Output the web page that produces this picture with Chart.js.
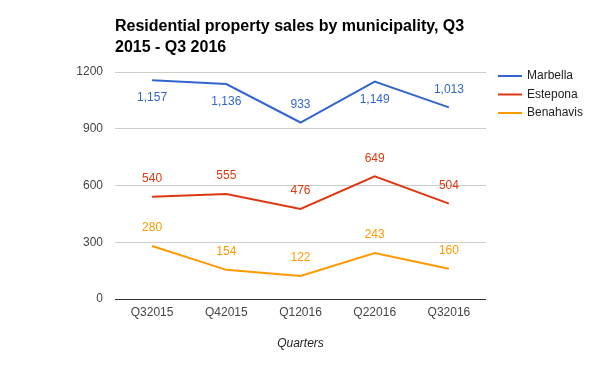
<!DOCTYPE html>
<html>
<head>
<meta charset="utf-8">
<script src="https://cdn.jsdelivr.net/npm/chart.js@4"></script>
<style>
  html, body { margin: 0; padding: 0; background: #fff; }
  #wrap { width: 600px; height: 371px; position: relative; }
</style>
</head>
<body>
<div id="wrap"><canvas id="chart"></canvas></div>
<script>
const quarters  = ['Q32015', 'Q42015', 'Q12016', 'Q22016', 'Q32016'];
const marbella  = [1157, 1136, 933, 1149, 1013];
const estepona  = [540, 555, 476, 649, 504];
const benahavis = [280, 154, 122, 243, 160];
const yTicks    = [0, 300, 600, 900, 1200];

// where each value label sits relative to its point
const marbellaLabelPos  = ['below', 'below', 'above', 'below', 'above'];
const esteponaLabelPos  = ['above', 'above', 'above', 'above', 'above'];
const benahavisLabelPos = ['above', 'above', 'above', 'above', 'above'];

const FONT = "Arial, 'Liberation Sans', sans-serif";

const titleLines = ['Residential property sales by municipality, Q3', '2015 - Q3 2016'];

// ── title, legend and value labels ─────────────
const decorations = {
  id: 'decorations',
  afterDatasetsDraw(chart) {
    const c = chart.ctx;
    c.save();

    c.fillStyle = '#000';
    c.font = 'bold 16px ' + FONT;
    c.textAlign = 'left';
    c.textBaseline = 'alphabetic';
    c.fillText(titleLines[0], 115, 31);
    c.fillText(titleLines[1], 115, 52);

    c.font = '12px ' + FONT;
    c.textAlign = 'center';
    c.textBaseline = 'middle';
    chart.data.datasets.forEach((ds, i) => {
      const meta = chart.getDatasetMeta(i);
      c.fillStyle = ds.borderColor;
      meta.data.forEach((pt, j) => {
        const off = ds.labelPos[j] === 'below' ? 18 : -18;
        c.fillText(ds.data[j].toLocaleString('en-US'), pt.x, pt.y + off);
      });
    });

    c.textAlign = 'left';
    chart.data.datasets.forEach((ds, i) => {
      const y = 76 + i * 18.5;
      c.strokeStyle = ds.borderColor;
      c.lineWidth = 2;
      c.beginPath();
      c.moveTo(498, y);
      c.lineTo(522, y);
      c.stroke();
      c.fillStyle = '#222';
      c.fillText(ds.label, 527, y);
    });

    c.restore();
  },
};

function series(label, data, color, labelPos) {
  return {
    label,
    data,
    labelPos,
    borderColor: color,
    backgroundColor: color,
    borderWidth: 2,
    pointRadius: 0,
    pointHoverRadius: 0,
    tension: 0,
    fill: false,
  };
}

new Chart(document.getElementById('chart').getContext('2d'), {
  type: 'line',
  data: {
    labels: quarters,
    datasets: [
      series('Marbella',  marbella,  '#3366cc', marbellaLabelPos),
      series('Estepona',  estepona,  '#dc3912', esteponaLabelPos),
      series('Benahavis', benahavis, '#ff9900', benahavisLabelPos),
    ],
  },
  options: {
    responsive: true,
    maintainAspectRatio: false,
    animation: false,
    layout: { padding: { top: 72, right: 114, left: 0, bottom: 0 } },
    plugins: {
      legend: { display: false },
      title: { display: false },
      tooltip: { enabled: false },
    },
    scales: {
      x: {
        offset: true,
        grid: { display: false },
        border: { display: false },
        ticks: { color: '#444', font: { family: FONT, size: 12 }, padding: -2, maxRotation: 0 },
        title: {
          display: true,
          text: 'Quarters',
          color: '#222',
          font: { family: FONT, size: 12, style: 'italic' },
          padding: { top: 0, bottom: 20 },
        },
        afterFit(scale) { scale.height = 72; },
      },
      y: {
        min: 0,
        max: 1200,
        afterBuildTicks(scale) { scale.ticks = yTicks.map(v => ({ value: v })); },
        grid: {
          drawTicks: false,
          color: c => (c.tick && c.tick.value === 0 ? '#333' : '#ccc'),
          lineWidth: 1,
        },
        border: { display: false },
        ticks: {
          color: '#444',
          font: { family: FONT, size: 12 },
          padding: 12,
          callback: v => String(v),
        },
        afterFit(scale) { scale.width = 115; },
      },
    },
  },
  plugins: [decorations],
});
</script>
</body>
</html>
